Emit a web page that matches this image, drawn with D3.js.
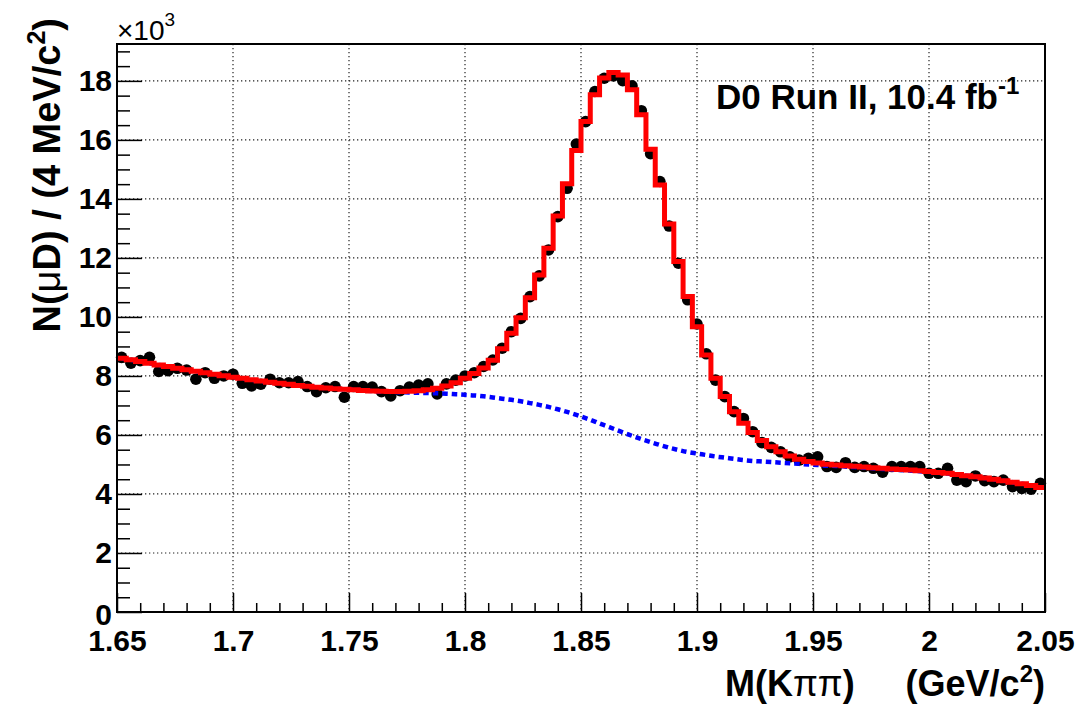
<!DOCTYPE html>
<html lang="en">
<head>
<meta charset="utf-8">
<title>D0 mass fit</title>
<script src="https://d3js.org/d3.v7.js"></script>
<style type="text/css">
	body { margin: 0; background: #ffffff; }
	svg text { font-family: "Liberation Sans", Arial, Helvetica, sans-serif; fill: #000; }
	.lbl { font-weight: bold; }
</style>
</head>
<body>
<div id="chart"></div>
<script>
// bins: 4 MeV from 1.65 to 2.05 GeV
const xLow = 1.65, xHigh = 2.05, binW = 0.004;
const xTicks = [1.65, 1.7, 1.75, 1.8, 1.85, 1.9, 1.95, 2, 2.05];
const yTicks = [0, 2, 4, 6, 8, 10, 12, 14, 16, 18];

// data points (x10^3 per bin)
const counts = [
	8.63, 8.43, 8.52, 8.63, 8.15, 8.18, 8.26, 8.20, 7.89, 8.11,
	7.92, 8.00, 8.06, 7.75, 7.66, 7.72, 7.89, 7.77, 7.77, 7.81,
	7.64, 7.47, 7.60, 7.64, 7.28, 7.64, 7.64, 7.62, 7.47, 7.32,
	7.50, 7.62, 7.69, 7.73, 7.39, 7.73, 7.86, 8.00, 8.11, 8.32,
	8.54, 8.94, 9.50, 9.95, 10.69, 11.39, 12.27, 13.40, 14.36, 15.86,
	16.62, 17.64, 18.09, 18.17, 18.01, 17.83, 16.99, 15.53, 14.59, 13.08,
	11.82, 10.58, 9.76, 8.75, 7.86, 7.30, 6.79, 6.56, 6.11, 5.74,
	5.58, 5.43, 5.26, 5.15, 5.21, 5.26, 4.93, 4.90, 5.06, 4.90,
	4.93, 4.87, 4.74, 4.93, 4.93, 4.93, 4.93, 4.70, 4.70, 4.87,
	4.47, 4.42, 4.61, 4.45, 4.42, 4.47, 4.25, 4.19, 4.16, 4.36
];

// total fit (red histogram)
const fitTotal = [
	8.60, 8.55, 8.49, 8.43, 8.37, 8.32, 8.26, 8.21, 8.16, 8.11,
	8.06, 8.01, 7.96, 7.92, 7.87, 7.83, 7.79, 7.75, 7.72, 7.68,
	7.65, 7.62, 7.59, 7.57, 7.55, 7.53, 7.51, 7.49, 7.48, 7.47,
	7.47, 7.48, 7.50, 7.53, 7.58, 7.66, 7.77, 7.92, 8.08, 8.27,
	8.53, 8.92, 9.45, 9.97, 10.65, 11.42, 12.33, 13.42, 14.51, 15.64,
	16.62, 17.53, 18.10, 18.28, 18.20, 17.70, 16.85, 15.68, 14.47, 13.15,
	11.88, 10.69, 9.67, 8.71, 7.92, 7.30, 6.79, 6.40, 6.08, 5.81,
	5.60, 5.43, 5.29, 5.18, 5.10, 5.05, 5.01, 4.98, 4.96, 4.94,
	4.91, 4.89, 4.87, 4.85, 4.83, 4.81, 4.79, 4.76, 4.73, 4.70,
	4.66, 4.62, 4.58, 4.54, 4.50, 4.45, 4.40, 4.35, 4.29, 4.22
];

// background component (blue dotted)
const fitBkg = [
	8.60, 8.55, 8.49, 8.43, 8.37, 8.32, 8.26, 8.21, 8.16, 8.11,
	8.06, 8.01, 7.96, 7.92, 7.87, 7.83, 7.79, 7.75, 7.72, 7.68,
	7.65, 7.62, 7.59, 7.57, 7.55, 7.53, 7.51, 7.49, 7.47, 7.46,
	7.45, 7.44, 7.43, 7.42, 7.41, 7.40, 7.38, 7.36, 7.34, 7.31,
	7.27, 7.23, 7.19, 7.14, 7.08, 7.02, 6.95, 6.87, 6.78, 6.68,
	6.57, 6.45, 6.33, 6.21, 6.09, 5.97, 5.86, 5.76, 5.66, 5.57,
	5.49, 5.42, 5.37, 5.32, 5.27, 5.23, 5.19, 5.15, 5.12, 5.10,
	5.08, 5.06, 5.04, 5.02, 5.00, 4.98, 4.96, 4.95, 4.93, 4.91,
	4.89, 4.87, 4.85, 4.83, 4.81, 4.79, 4.77, 4.75, 4.72, 4.69,
	4.66, 4.62, 4.58, 4.54, 4.50, 4.45, 4.40, 4.35, 4.29, 4.22
];

const W = 1081, H = 706;
const margin = {top: 44, right: 36, bottom: 94, left: 117},
width = W - margin.left - margin.right,
height = H - margin.top - margin.bottom;

const svg = d3.select("#chart").append("svg")
	.attr("width", W).attr("height", H);
const g = svg.append("g").attr("transform", `translate(${margin.left},${margin.top})`);

const x = d3.scaleLinear().domain([xLow, xHigh]).range([0, width]);
const y = d3.scaleLinear().domain([0, 19.25]).range([height, 0]);

// grid
g.append("g").selectAll("line").data(xTicks.slice(1, -1)).join("line")
	.attr("x1", d => x(d)).attr("x2", d => x(d)).attr("y1", 0).attr("y2", height)
	.attr("stroke", "#222").attr("stroke-width", 1.2).attr("stroke-dasharray", "1.3,2.7");
g.append("g").selectAll("line").data(yTicks.slice(1)).join("line")
	.attr("y1", d => y(d)).attr("y2", d => y(d)).attr("x1", 0).attr("x2", width)
	.attr("stroke", "#222").attr("stroke-width", 1.2).attr("stroke-dasharray", "1.3,2.7");

// minor ticks
const xMinor = d3.range(0, 41).map(i => xLow + i * 0.01).filter(v => Math.abs(((v - xLow) / 0.05) - Math.round((v - xLow) / 0.05)) > 1e-6);
const yMinor = d3.range(0, 39).map(i => i * 0.5).filter(v => v % 2 !== 0);
g.append("g").attr("transform", `translate(0,${height})`)
	.call(d3.axisBottom(x).tickValues(xMinor).tickSize(-9).tickFormat(""))
	.call(a => a.select(".domain").remove())
	.selectAll("line").attr("stroke-width", 1.5);
g.append("g")
	.call(d3.axisLeft(y).tickValues(yMinor).tickSize(-13).tickFormat(""))
	.call(a => a.select(".domain").remove())
	.selectAll("line").attr("stroke-width", 1.5);

// major ticks with labels
const xAxis = g.append("g").attr("transform", `translate(0,${height})`)
	.call(d3.axisBottom(x).tickValues(xTicks).tickSize(-19).tickPadding(18).tickFormat(d3.format("")))
	.call(a => a.select(".domain").remove());
xAxis.selectAll("line").attr("stroke-width", 1.5);
xAxis.selectAll("text").attr("class", "lbl").style("font-size", "30px");

const yAxis = g.append("g")
	.call(d3.axisLeft(y).tickValues(yTicks).tickSize(-25).tickPadding(5))
	.call(a => a.select(".domain").remove());
yAxis.selectAll("line").attr("stroke-width", 1.5);
yAxis.selectAll("text").attr("class", "lbl").style("font-size", "30px");
yAxis.selectAll("text").filter(d => d === 0).attr("dy", "0.42em");

// data points
g.append("g").selectAll("circle").data(counts).join("circle")
	.attr("cx", (d, i) => x(xLow + (i + 0.5) * binW))
	.attr("cy", d => y(d))
	.attr("r", 5.8)
	.attr("fill", "#000");

// background curve
const bkgLine = d3.line()
	.x((d, i) => x(xLow + (i + 0.5) * binW))
	.y(d => y(d))
	.curve(d3.curveMonotoneX);
g.append("path").datum(fitBkg)
	.attr("d", bkgLine)
	.attr("fill", "none").attr("stroke", "#0000ff")
	.attr("stroke-width", 4.5).attr("stroke-dasharray", "5.5,4");

// total fit as histogram
const stepPts = fitTotal.map((v, i) => [xLow + i * binW, v]);
stepPts.push([xHigh, fitTotal[fitTotal.length - 1]]);
g.append("path").datum(stepPts)
	.attr("d", d3.line().x(d => x(d[0])).y(d => y(d[1])).curve(d3.curveStepAfter))
	.attr("fill", "none").attr("stroke", "#ff0000")
	.attr("stroke-width", 5).attr("stroke-linejoin", "miter");

// frame
g.append("rect").attr("width", width).attr("height", height)
	.attr("fill", "none").attr("stroke", "#000").attr("stroke-width", 2);

// exponent
const ex = svg.append("text").attr("x", margin.left).attr("y", 40).style("font-size", "28px");
ex.append("tspan").text("\u00d710");
ex.append("tspan").attr("dy", -14).style("font-size", "19px").text("3");

// y title
const yt = svg.append("text")
	.attr("transform", "translate(60,18) rotate(-90)")
	.attr("text-anchor", "end").attr("class", "lbl").style("font-size", "38px");
yt.append("tspan").text("N(");
yt.append("tspan").style("font-weight", "normal").text("\u03bc");
yt.append("tspan").text("D) / (4 MeV/c");
yt.append("tspan").attr("dy", -15).style("font-size", "25px").text("2");
yt.append("tspan").attr("dy", 15).text(")");

// x title
svg.append("text").attr("x", 725).attr("y", 696).attr("class", "lbl").style("font-size", "36px")
	.call(t => {
		t.append("tspan").text("M(K");
		t.append("tspan").style("font-weight", "normal").text("\u03c0\u03c0");
		t.append("tspan").text(")");
	});
const xt = svg.append("text").attr("x", 1045).attr("y", 696).attr("text-anchor", "end")
	.attr("class", "lbl").style("font-size", "36px");
xt.append("tspan").text("(GeV/c");
xt.append("tspan").attr("dy", -14).style("font-size", "24px").text("2");
xt.append("tspan").attr("dy", 14).text(")");

// label
const lab = svg.append("text").attr("x", 716).attr("y", 109).attr("class", "lbl").style("font-size", "35px");
lab.append("tspan").text("D0 Run II, 10.4 fb");
lab.append("tspan").attr("dy", -15).style("font-size", "24px").text("-1");
</script>
</body>
</html>
